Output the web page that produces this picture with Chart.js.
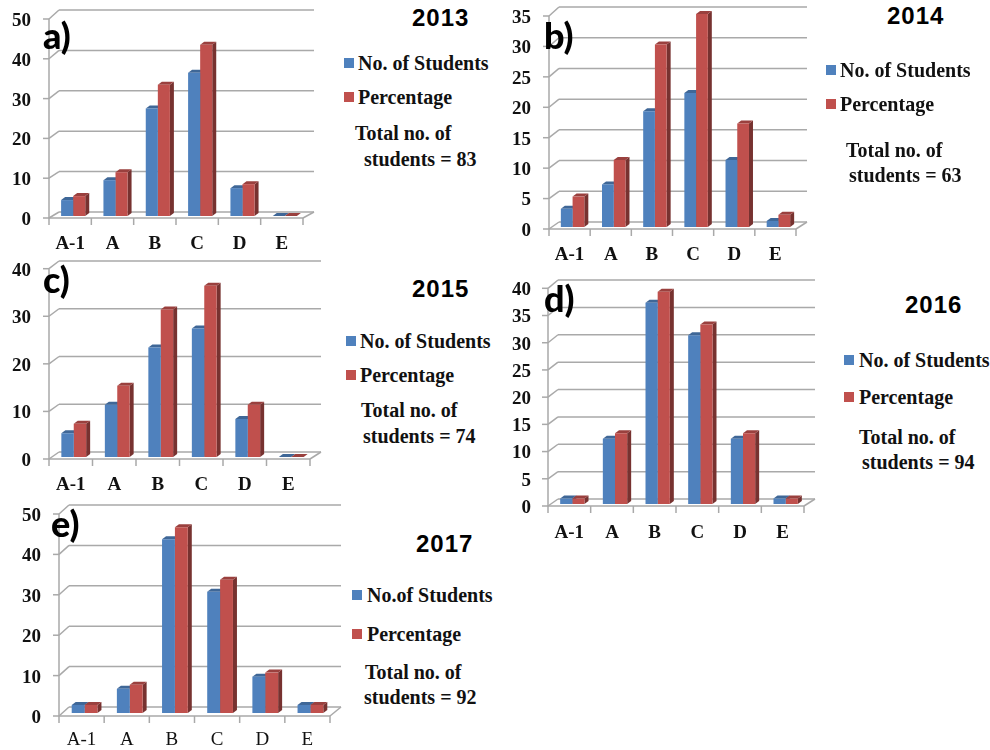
<!DOCTYPE html>
<html lang="en">
<head>
  <meta charset="UTF-8">
  <title>Grades 2013-2017</title>
  <script src="https://cdn.jsdelivr.net/npm/chart.js"></script>
  <style>
    html, body { margin: 0; padding: 0; background: #fff; }
    #page { position: relative; width: 990px; height: 750px; overflow: hidden; }
    canvas { position: absolute; }
    .txt { position: absolute; white-space: nowrap; transform: translateY(-50%); color: #111; line-height: 1; }
    .legend { font: bold 20px "Liberation Serif", serif; }
    .year { font: bold 24px "Liberation Sans", sans-serif; letter-spacing: 1px; color: #000; }
    .tag { font: 900 36px Lato, sans-serif; color: #000; }
    .swatch { position: absolute; width: 10px; height: 10px; transform: translateY(-50%); }
  </style>
</head>
<body>
<div id="page"></div>

<script>
  const categories = ['A-1', 'A', 'B', 'C', 'D', 'E'];
  const blue = '#4f81bd';
  const red = '#c0504d';

  const students2013 = [4, 9, 27, 36, 7, 0];
  const percent2013 = [5, 11, 33, 43, 8, 0];
  const students2014 = [3, 7, 19, 22, 11, 1];
  const percent2014 = [5, 11, 30, 35, 17, 2];
  const students2015 = [5, 11, 23, 27, 8, 0];
  const percent2015 = [7, 15, 31, 36, 11, 0];
  const students2016 = [1, 12, 37, 31, 12, 1];
  const percent2016 = [1, 13, 39, 33, 13, 1];
  const students2017 = [2, 6, 43, 30, 9, 2];
  const percent2017 = [2, 7, 46, 33, 10, 2];

  // layout of each panel, in page pixels
  const panels = [
    { tag: 'a)', year: '2013', students: students2013, percent: percent2013, max: 50, step: 10,
      box: [0, 0, 335, 255], left: 49, right: 303, top: 17, bottom: 216, drop: 2, backB: 212, backT: 10, labelY: 243, yEnd: 31,
      tagPos: [43, 35], yearPos: [412, 18], swatchX: 344, textX: 358, legendY: [63, 97], nameLabel: 'No. of Students',
      total: [355, 133, 364, 159, 83] },
    { tag: 'b)', year: '2014', students: students2014, percent: percent2014, max: 35, step: 5,
      box: [510, 0, 320, 262], left: 549, right: 796, top: 14, bottom: 227, drop: 2, backB: 222, backT: 7, labelY: 254, yEnd: 531,
      tagPos: [544, 35], yearPos: [887, 16], swatchX: 826, textX: 840, legendY: [70, 104], nameLabel: 'No. of Students',
      total: [846, 150, 849, 175, 63] },
    { tag: 'c)', year: '2015', students: students2015, percent: percent2015, max: 40, step: 10,
      box: [0, 255, 335, 245], left: 49, right: 310, top: 266.7, bottom: 457, drop: 2, backB: 452, backT: 261, labelY: 484, yEnd: 31,
      tagPos: [43, 279], yearPos: [412, 289], swatchX: 346, textX: 360, legendY: [341, 375], nameLabel: 'No. of Students',
      total: [361, 410, 363, 436, 74] },
    { tag: 'd)', year: '2016', students: students2016, percent: percent2016, max: 40, step: 5,
      box: [510, 265, 320, 285], left: 548, right: 804, top: 286.3, bottom: 504, drop: 2, backB: 499, backT: 280, labelY: 532, yEnd: 531,
      tagPos: [544, 298], yearPos: [905, 305], swatchX: 844, textX: 859, legendY: [360, 397], nameLabel: 'No. of Students',
      total: [859, 437, 862, 462, 94] },
    { tag: 'e)', year: '2017', students: students2017, percent: percent2017, max: 50, step: 10,
      box: [0, 500, 350, 250], left: 59, right: 330, top: 511, bottom: 713, drop: 3, backB: 707, backT: 505, labelY: 739, yEnd: 41,
      tagPos: [51, 523], yearPos: [416, 544], swatchX: 352, textX: 367, legendY: [595, 634], nameLabel: 'No.of Students', thinLabels: true,
      total: [365, 672, 364, 697, 92] }
  ];

  const SHIFT = 3;      // bars sit a little to the right of the axis
  const DEPTH_X = 10;   // depth of the floor
  const BAR_DX = 4;
  const BAR_DY = 3;
  const GRID = '#a9a9a9';

  function shade(hex, f) {
    const n = parseInt(hex.slice(1), 16);
    const c = [n >> 16, (n >> 8) & 255, n & 255].map(v => Math.round(v * f));
    return `rgb(${c[0]},${c[1]},${c[2]})`;
  }

  function poly(ctx, pts, color) {
    ctx.fillStyle = color;
    ctx.beginPath();
    pts.forEach((p, i) => i ? ctx.lineTo(p[0], p[1]) : ctx.moveTo(p[0], p[1]));
    ctx.closePath();
    ctx.fill();
  }

  // fake 3D walls and bar sides, drawn before the flat bars go on top
  const depthPlugin = {
    id: 'depth',
    beforeDatasetsDraw(chart, args, opts) {
      const p = opts.panel;
      const ctx = chart.ctx;
      const oy = p.box[1];
      const xs = chart.scales.x, ys = chart.scales.y;
      const axisL = xs.left - SHIFT, axisR = xs.right - SHIFT;

      ctx.save();
      ctx.strokeStyle = GRID;
      ctx.lineWidth = 1.5;
      const line = (x1, y1, x2, y2) => {
        ctx.beginPath();
        ctx.moveTo(x1, y1);
        ctx.lineTo(x2, y2);
        ctx.stroke();
      };
      ys.ticks.forEach(t => {
        const front = ys.getPixelForValue(t.value) + p.drop;
        const back = p.backB + (p.backT - p.backB) * t.value / p.max - oy;
        line(axisL + DEPTH_X, back, axisR + DEPTH_X + 1, back);
        line(axisL - 6, front, axisL, front);
        line(axisL, front, axisL + DEPTH_X, back);
      });
      const y0 = ys.getPixelForValue(0) + p.drop;
      const yTop = ys.getPixelForValue(p.max) + p.drop;
      line(axisL, yTop, axisL, y0);
      line(axisL, y0, axisR, y0);
      line(axisR, y0, axisR + DEPTH_X + 1, p.backB - oy);
      categories.concat('').forEach((c, i) => {
        const x = axisL + i * (axisR - axisL) / categories.length;
        line(x, y0, x, y0 + 7);
      });

      chart.data.datasets.forEach((ds, d) => {
        chart.getDatasetMeta(d).data.forEach(bar => {
          const l = bar.x - bar.width / 2, r = bar.x + bar.width / 2;
          poly(ctx, [[r, bar.y], [r + BAR_DX, bar.y - BAR_DY], [r + BAR_DX, bar.base - BAR_DY], [r, bar.base]], shade(ds.backgroundColor, 0.62));
          poly(ctx, [[l, bar.y], [l + BAR_DX, bar.y - BAR_DY], [r + BAR_DX, bar.y - BAR_DY], [r, bar.y]], shade(ds.backgroundColor, 0.8));
        });
      });
      ctx.restore();
    }
  };

  const page = document.getElementById('page');

  function addText(cls, text, x, y) {
    const el = document.createElement('div');
    el.className = 'txt ' + cls;
    el.textContent = text;
    el.style.left = x + 'px';
    el.style.top = y + 'px';
    page.appendChild(el);
  }

  function addSwatch(color, x, y) {
    const el = document.createElement('div');
    el.className = 'swatch';
    el.style.background = color;
    el.style.left = x + 'px';
    el.style.top = y + 'px';
    page.appendChild(el);
  }

  panels.forEach(p => {
    const [bx, by, bw, bh] = p.box;
    const canvas = document.createElement('canvas');
    canvas.style.left = bx + 'px';
    canvas.style.top = by + 'px';
    canvas.style.width = bw + 'px';
    canvas.style.height = bh + 'px';
    canvas.width = bw;
    canvas.height = bh;
    page.appendChild(canvas);

    const plotL = p.left + SHIFT, plotR = p.right + SHIFT;

    new Chart(canvas, {
      type: 'bar',
      data: {
        labels: categories,
        datasets: [
          { label: p.nameLabel, data: p.students, backgroundColor: blue },
          { label: 'Percentage', data: p.percent, backgroundColor: red }
        ]
      },
      plugins: [depthPlugin],
      options: {
        responsive: false,
        animation: false,
        events: [],
        categoryPercentage: 0.57,
        barPercentage: 1,
        layout: { padding: { top: p.top - by, right: bx + bw - plotR, left: 0, bottom: 0 } },
        plugins: {
          legend: { display: false },
          tooltip: { enabled: false },
          depth: { panel: p }
        },
        scales: {
          x: {
            grid: { display: false, drawTicks: false },
            border: { display: false },
            afterFit: s => { s.height = by + bh - p.bottom; s.paddingLeft = 0; s.paddingRight = 0; },
            ticks: {
              color: '#111',
              font: { family: 'Liberation Serif', size: 19, weight: p.thinLabels ? 'normal' : 'bold' },
              padding: p.labelY - p.bottom - 10,
              labelOffset: -SHIFT,
              maxRotation: 0,
              autoSkip: false
            }
          },
          y: {
            min: 0,
            max: p.max,
            grid: { display: false, drawTicks: false },
            border: { display: false },
            afterFit: s => { s.width = plotL - bx; s.paddingTop = 0; s.paddingBottom = 0; },
            ticks: {
              stepSize: p.step,
              color: '#111',
              font: { family: 'Liberation Serif', size: 19, weight: 'bold' },
              padding: plotL - p.yEnd,
              labelOffset: p.drop + 2
            }
          }
        }
      }
    });

    addText('tag', p.tag, p.tagPos[0], p.tagPos[1]);
    addText('year', p.year, p.yearPos[0], p.yearPos[1]);
    addSwatch(blue, p.swatchX, p.legendY[0]);
    addSwatch(red, p.swatchX, p.legendY[1]);
    addText('legend', p.nameLabel, p.textX, p.legendY[0]);
    addText('legend', 'Percentage', p.textX, p.legendY[1]);
    addText('legend', 'Total no. of', p.total[0], p.total[1]);
    addText('legend', 'students = ' + p.total[4], p.total[2], p.total[3]);
  });
</script>
</body>
</html>
